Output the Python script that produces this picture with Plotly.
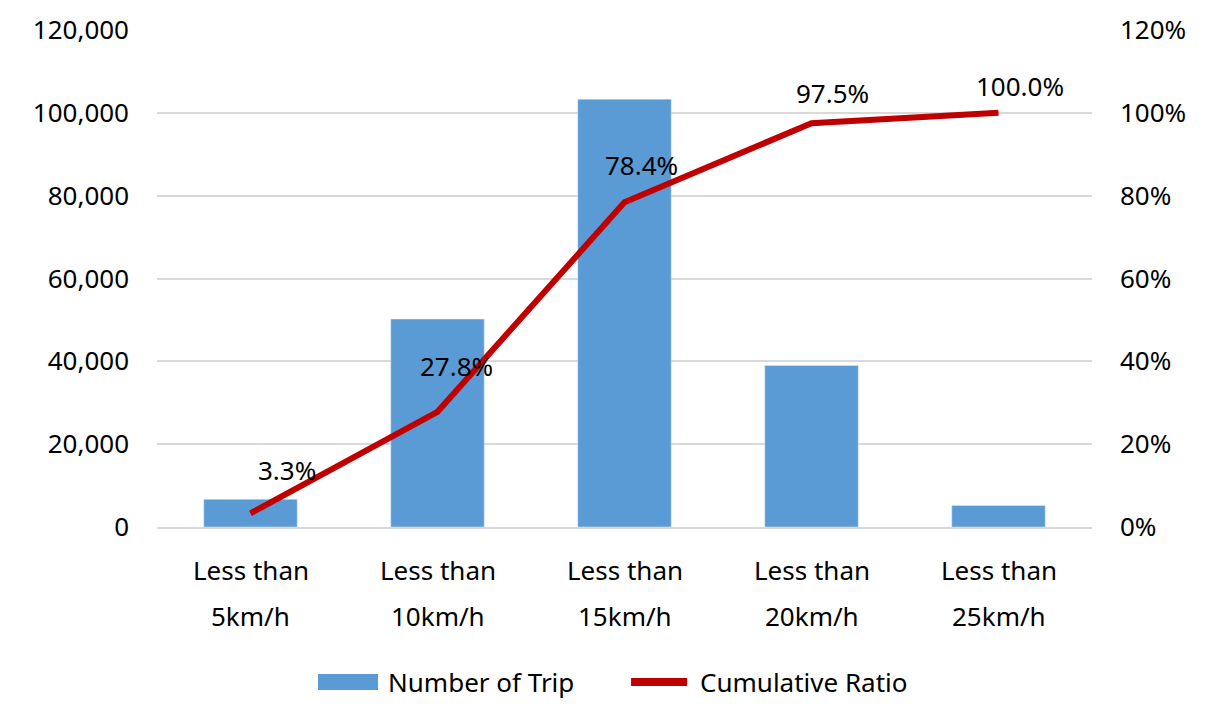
import plotly.graph_objects as go

cat_line1 = ["Less than"] * 5
cat_line2 = ["5km/h", "10km/h", "15km/h", "20km/h", "25km/h"]
categories = [a + " " + b for a, b in zip(cat_line1, cat_line2)]
trips = [6700, 50200, 103300, 39000, 5200]
cumulative = [3.3, 27.8, 78.4, 97.5, 100.0]
cum_labels = ["3.3%", "27.8%", "78.4%", "97.5%", "100.0%"]
series_names = ["Number of Trip", "Cumulative Ratio"]

FONT = "Noto Sans"
FS = 26
BAR_C = "#5B9BD5"
LINE_C = "#C00000"
GRID_C = "#D9D9D9"

fig = go.Figure()
fig.add_trace(go.Bar(x=categories, y=trips, name=series_names[0],
                     marker=dict(color=BAR_C), width=0.5))
fig.add_trace(go.Scatter(x=categories, y=cumulative, name=series_names[1],
                         yaxis="y2", mode="lines",
                         line=dict(color=LINE_C, width=6)))

# data labels (offsets in pixels, matched to reference placement)
label_shift = [(36, 43), (19, 46), (17, 37), (21, 30), (21, 27)]
for c, v, t, (dx, dy) in zip(categories, cumulative, cum_labels, label_shift):
    fig.add_annotation(x=c, y=v, xref="x", yref="y2", text=t, showarrow=False,
                       xshift=dx, yshift=dy,
                       font=dict(size=FS, color="#000000", family=FONT))

# two-line category labels
for c, l1, l2 in zip(categories, cat_line1, cat_line2):
    fig.add_annotation(x=c, y=0, xref="x", yref="paper", text=l1, showarrow=False,
                       yshift=-43, yanchor="middle",
                       font=dict(size=FS, color="#000000", family=FONT))
    fig.add_annotation(x=c, y=0, xref="x", yref="paper", text=l2, showarrow=False,
                       yshift=-89, yanchor="middle",
                       font=dict(size=FS, color="#000000", family=FONT))

# custom legend
fig.add_shape(type="rect", xref="paper", yref="paper", x0=0.1722, x1=0.2364,
              y0=-0.328, y1=-0.2958, fillcolor=BAR_C, line=dict(width=0))
fig.add_shape(type="line", xref="paper", yref="paper", x0=0.507, x1=0.567,
              y0=-0.3119, y1=-0.3119, line=dict(color=LINE_C, width=8))
fig.add_annotation(x=0.2449, y=-0.3119, xref="paper", yref="paper", text=series_names[0],
                   showarrow=False, xanchor="left", yanchor="middle",
                   font=dict(size=FS, color="#000000", family=FONT))
fig.add_annotation(x=0.5786, y=-0.3119, xref="paper", yref="paper", text=series_names[1],
                   showarrow=False, xanchor="left", yanchor="middle",
                   font=dict(size=FS, color="#000000", family=FONT))

fig.update_layout(
    width=1217, height=718,
    margin=dict(l=149, r=133, t=22, b=199),
    paper_bgcolor="white", plot_bgcolor="white",
    font=dict(family=FONT, size=FS, color="#000000"),
    showlegend=False,
    xaxis=dict(showline=True, linecolor=GRID_C, linewidth=1.5, ticks="",
               showticklabels=False, showgrid=False, automargin=False),
    yaxis=dict(range=[0, 120000], dtick=20000, tickformat=",d", showgrid=True,
               gridcolor=GRID_C, gridwidth=1.5, zeroline=False, ticks="",
               tickfont=dict(size=FS), showline=False, automargin=False,
               ticklabelstandoff=27),
    yaxis2=dict(range=[0, 120], dtick=20, ticksuffix="%", overlaying="y", side="right",
                showgrid=False, zeroline=False, tickfont=dict(size=FS), ticks="",
                automargin=False, ticklabelstandoff=27),
)
fig.write_html("out.html")
